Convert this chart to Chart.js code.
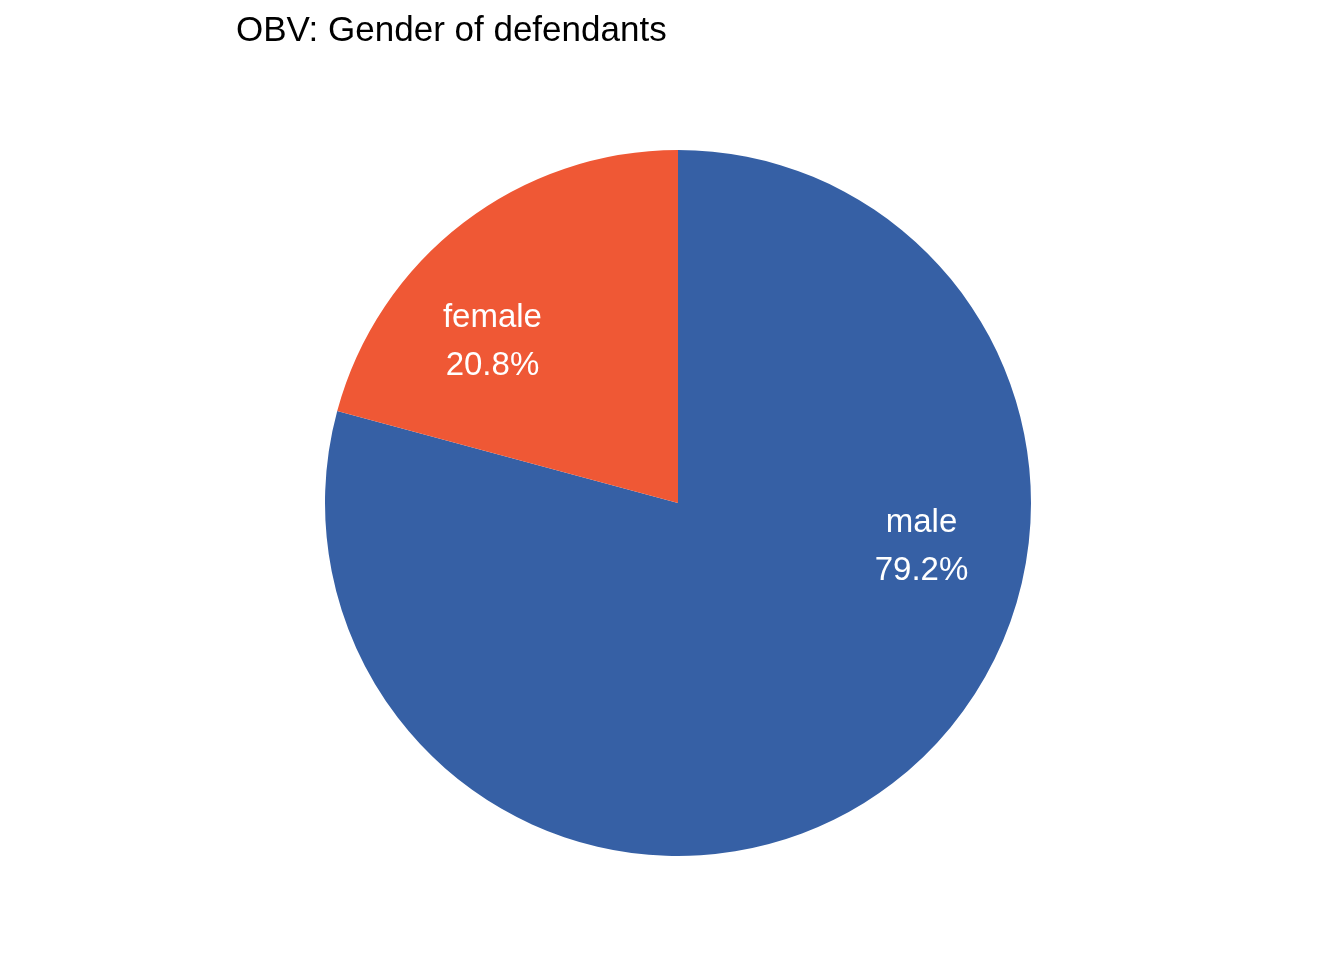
<!DOCTYPE html>
<html>
<head>
<meta charset="utf-8">
<title>OBV: Gender of defendants</title>
<script src="https://cdn.jsdelivr.net/npm/chart.js@4/dist/chart.umd.min.js"></script>
<style>
  html, body { margin: 0; padding: 0; background: #fff; }
  #wrap { width: 1344px; height: 960px; }
</style>
</head>
<body>
<div id="wrap"><canvas id="chart" width="1344" height="960"></canvas></div>
<script>
// data
const categories = ['male', 'female'];
const shares = [79.2, 20.8];
const sliceColors = ['#3660a5', '#ef5835'];

const FONT = '"Liberation Sans", Arial, Helvetica, sans-serif';

// white two-line labels inside each slice
const sliceLabels = {
    id: 'sliceLabels',
    afterDatasetsDraw(chart) {
        const ctx = chart.ctx;
        const meta = chart.getDatasetMeta(0);
        ctx.save();
        ctx.fillStyle = '#ffffff';
        ctx.font = '33px ' + FONT;
        ctx.textAlign = 'center';
        ctx.textBaseline = 'alphabetic';
        meta.data.forEach((arc, i) => {
            const p = arc.getProps(['x', 'y', 'startAngle', 'endAngle', 'outerRadius'], true);
            const a = p.startAngle + 0.35 * (p.endAngle - p.startAngle);
            const r = 0.70 * p.outerRadius;
            const x = p.x + Math.cos(a) * r;
            const y = p.y + Math.sin(a) * r;
            ctx.fillText(categories[i], x, y + 11 - 24.2);
            ctx.fillText(shares[i].toFixed(1) + '%', x, y + 11 + 24.2);
        });
        ctx.restore();
    }
};

new Chart(document.getElementById('chart'), {
    type: 'pie',
    data: {
        labels: categories,
        datasets: [{
            data: shares,
            backgroundColor: sliceColors,
            borderWidth: 0
        }]
    },
    options: {
        responsive: false,
        animation: false,
        devicePixelRatio: 1,
        layout: {
            padding: { top: 10, left: 236, right: 224, bottom: 104 }
        },
        plugins: {
            legend: { display: false },
            tooltip: { enabled: false },
            title: {
                display: true,
                text: 'OBV: Gender of defendants',
                align: 'start',
                color: '#000000',
                font: { family: FONT, size: 35, weight: 'normal', lineHeight: 1.2 },
                padding: { top: 0, bottom: 98 }
            }
        }
    },
    plugins: [sliceLabels]
});
</script>
</body>
</html>
